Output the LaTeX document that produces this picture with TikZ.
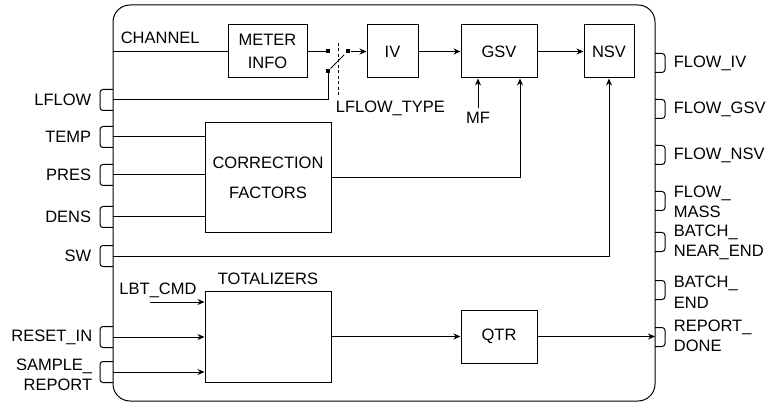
\documentclass[tikz,border=0pt]{standalone}
\usepackage{fontspec}
\setmainfont{Liberation Sans}
\usetikzlibrary{arrows.meta}

\tikzset{
    blk/.style={draw, inner sep=0pt, align=center},
    arr/.style={-{Stealth[length=7pt,width=6pt]}},
    swdot/.style={fill, rectangle, inner sep=0pt, minimum size=4pt},
    port/.style={rounded corners=3pt},
}

\begin{document}
\begin{tikzpicture}[x=1pt,y=-1pt,line width=1pt,font=\fontsize{16.5}{20.5}\selectfont]
    \useasboundingbox (0,0) rectangle (770,403);
    \draw[rounded corners=17pt] (113,5) rectangle (655,401);

    % blocks
    \node[blk, minimum width=79, minimum height=53] (meter) at (267.5,51.5) {METER\\[3pt]INFO};
    \node[blk, minimum width=51, minimum height=53] (iv) at (392.5,51.5) {IV};
    \node[blk, minimum width=76, minimum height=53] (gsv) at (499,51.5) {GSV};
    \node[blk, minimum width=50, minimum height=53] (nsv) at (609,51.5) {NSV};
    \node[blk, minimum width=126, minimum height=110] (cf) at (268,178) {CORRECTION\\[10pt]FACTORS};
    \node[blk, minimum width=126, minimum height=91] (tot) at (268,336.5) {};
    \node[blk, minimum width=76, minimum height=53] (qtr) at (499,336.5) {QTR};

    % inner labels
    \node[anchor=west] (chan) at (117,38) {CHANNEL};
    \node (totlbl) at (268,279) {TOTALIZERS};
    \node (lbtlbl) at (158,290) {LBT\_CMD};
    \node[anchor=west] (lftype) at (332,108) {LFLOW\_TYPE};
    \node (mf) at (478,118) {MF};

    % left ports
    \foreach \py in {100,137,175,217,256,337,372}
        \draw[port] (113,\py-10.5) -| (100,\py+10.5) -- (113,\py+10.5);
    \node[anchor=east] (lflow) at (95,100) {LFLOW};
    \node[anchor=east] (temp) at (95,137) {TEMP};
    \node[anchor=east] (pres) at (95,175) {PRES};
    \node[anchor=east] (dens) at (95,217) {DENS};
    \node[anchor=east] (sw) at (95,256) {SW};
    \node[anchor=east] (reset) at (96,337) {RESET\_IN};
    \node[anchor=east, align=right] (sample) at (96,375) {SAMPLE\_\\REPORT};

    % right ports
    \foreach \py in {63,109,155,201,242,290,337}
        \draw[port] (655,\py-9.5) -| (665,\py+9.5) -- (655,\py+9.5);
    \node[anchor=west] (fiv) at (670,63) {FLOW\_IV};
    \node[anchor=west] (fgsv) at (670,109) {FLOW\_GSV};
    \node[anchor=west] (fnsv) at (670,155) {FLOW\_NSV};
    \node[anchor=west, align=left] (fmass) at (670,202) {FLOW\_\\MASS};
    \node[anchor=west, align=left] (bnear) at (670,242.5) {BATCH\_\\NEAR\_END};
    \node[anchor=west, align=left] (bend) at (670,292) {BATCH\_\\END};
    \node[anchor=west, align=left] (rdone) at (670,336) {REPORT\_\\DONE};

    \coordinate (chan in) at (113,51.5);
    \coordinate (lflow in) at (113,100);
    \coordinate (temp in) at (113,137);
    \coordinate (pres in) at (113,175);
    \coordinate (dens in) at (113,217);
    \coordinate (sw in) at (113,256);
    \coordinate (reset in) at (113,337);
    \coordinate (sample in) at (113,372);
    \coordinate (lbt) at (150,302);
    \coordinate (done in) at (655,336.5);

    % switch
    \node[swdot] (swa) at (328,51.5) {};
    \node[swdot] (swb) at (348,51.5) {};
    \node[swdot] (swc) at (328,71) {};
    \coordinate (lever) at (344,55);
    \coordinate (ctl top) at (338,43);
    \coordinate (ctl bot) at (338,98);
    \draw (swc) -- (lever);
    \draw[dashed, dash pattern=on 3pt off 2.5pt] (ctl top) -- (ctl bot);

    % connectors
    \draw (chan in) -- (meter);
    \draw (meter) -- (swa);
    \draw[arr] (swb) -- (iv);
    \draw (lflow in) -| (swc);
    \draw[arr] (iv) -- (gsv);
    \draw[arr] (gsv) -- (nsv);
    \draw[arr] (mf) -- (mf |- gsv.south);
    \draw[arr] (cf.east) -| ([xshift=21]gsv.south);
    \draw (temp in) -- (temp in -| cf.west);
    \draw (pres in) -- (pres in -| cf.west);
    \draw (dens in) -- (dens in -| cf.west);
    \draw[arr] (sw in) -| (nsv.south);
    \draw[arr] (lbt) -- (lbt -| tot.west);
    \draw[arr] (reset in) -- (reset in -| tot.west);
    \draw[arr] (sample in) -- (sample in -| tot.west);
    \draw[arr] (tot) -- (qtr);
    \draw[arr] (qtr) -- (done in);
\end{tikzpicture}
\end{document}
